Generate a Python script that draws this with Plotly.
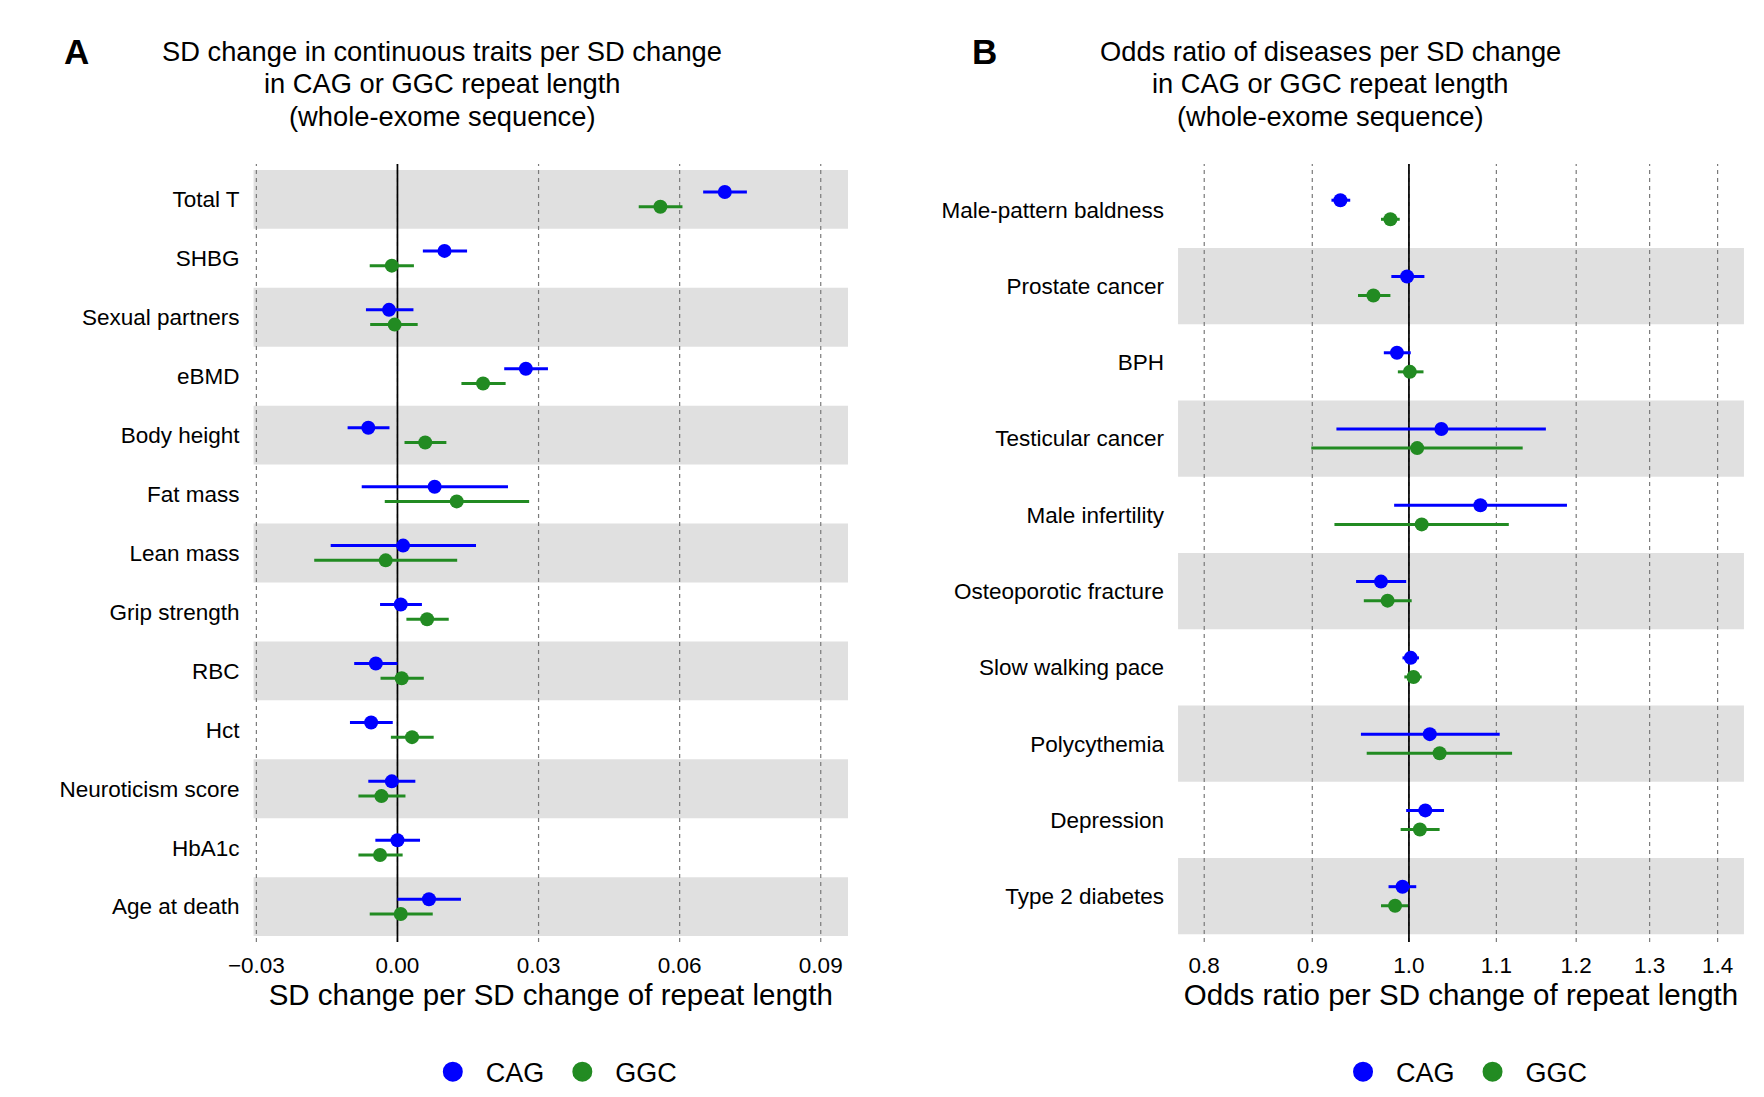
import plotly.graph_objects as go

# ---------------- Panel A data (top to bottom) ----------------
traits = ["Total T", "SHBG", "Sexual partners", "eBMD", "Body height", "Fat mass",
          "Lean mass", "Grip strength", "RBC", "Hct", "Neuroticism score", "HbA1c",
          "Age at death"]
a_cag_est = [0.0696, 0.0100, -0.0018, 0.0273, -0.0062, 0.0079, 0.0012, 0.0007, -0.0046, -0.0056, -0.0012, 0.0000, 0.0067]
a_cag_lo = [0.0650, 0.0054, -0.0067, 0.0227, -0.0106, -0.0076, -0.0142, -0.0037, -0.0092, -0.0101, -0.0062, -0.0047, 0.0000]
a_cag_hi = [0.0743, 0.0148, 0.0034, 0.0320, -0.0017, 0.0235, 0.0167, 0.0052, 0.0000, -0.0010, 0.0038, 0.0048, 0.0135]
a_ggc_est = [0.0559, -0.0012, -0.0006, 0.0182, 0.0059, 0.0126, -0.0025, 0.0063, 0.0009, 0.0031, -0.0034, -0.0037, 0.0007]
a_ggc_lo = [0.0513, -0.0059, -0.0058, 0.0136, 0.0015, -0.0027, -0.0177, 0.0019, -0.0036, -0.0014, -0.0083, -0.0083, -0.0059]
a_ggc_hi = [0.0606, 0.0035, 0.0043, 0.0230, 0.0104, 0.0280, 0.0127, 0.0109, 0.0056, 0.0077, 0.0017, 0.0011, 0.0075]
a_ticks = [-0.03, 0.0, 0.03, 0.06, 0.09]
a_ticklabels = ["\u22120.03", "0.00", "0.03", "0.06", "0.09"]

# ---------------- Panel B data (top to bottom) ----------------
diseases = ["Male-pattern baldness", "Prostate cancer", "BPH", "Testicular cancer",
            "Male infertility", "Osteoporotic fracture", "Slow walking pace",
            "Polycythemia", "Depression", "Type 2 diabetes"]
b_cag_or = [0.928, 0.998, 0.987, 1.036, 1.081, 0.970, 1.002, 1.023, 1.018, 0.993]
b_cag_lo = [0.919, 0.981, 0.973, 0.924, 0.984, 0.944, 0.993, 0.949, 0.997, 0.978]
b_cag_hi = [0.938, 1.017, 1.002, 1.161, 1.188, 0.997, 1.011, 1.104, 1.039, 1.008]
b_ggc_or = [0.980, 0.962, 1.001, 1.009, 1.014, 0.977, 1.005, 1.034, 1.012, 0.985]
b_ggc_lo = [0.970, 0.946, 0.988, 0.899, 0.922, 0.952, 0.995, 0.955, 0.991, 0.970]
b_ggc_hi = [0.990, 0.980, 1.016, 1.132, 1.115, 1.003, 1.014, 1.119, 1.034, 0.999]
b_ticks = [0.8, 0.9, 1.0, 1.1, 1.2, 1.3, 1.4]
b_ticklabels = ["0.8", "0.9", "1.0", "1.1", "1.2", "1.3", "1.4"]

series_names = ["CAG", "GGC"]
series_colors = ["#0000FF", "#228B22"]

FONT = "Liberation Sans, Arial, Helvetica, sans-serif"
DODGE = 0.125

fig = go.Figure()


def add_panel(cats, ests, los, his, xa, ya, legend, ticks, ref_x):
    n = len(cats)
    pos = [n - i for i in range(n)]
    xdom = xa + " domain"
    ydom = ya + " domain"
    # alternating gray bands (odd rows counted from the bottom)
    for p in pos:
        if p % 2 == 1:
            fig.add_shape(type="rect", xref=xdom, x0=0, x1=1, yref=ya,
                          y0=p - 0.5, y1=p + 0.5, fillcolor="#E0E0E0",
                          line=dict(width=0), layer="below")
    # dashed vertical grid lines at the ticks
    for t in ticks:
        fig.add_shape(type="line", xref=xa, x0=t, x1=t, yref=ydom, y0=0, y1=1,
                      line=dict(color="#7A7A7A", width=1.2, dash="4px,4px"), layer="below")
    # solid reference line
    fig.add_shape(type="line", xref=xa, x0=ref_x, x1=ref_x, yref=ydom, y0=0, y1=1,
                  line=dict(color="black", width=1.7), layer="below")
    for k, (name, col) in enumerate(zip(series_names, series_colors)):
        off = DODGE if k == 0 else -DODGE
        est, lo, hi = ests[k], los[k], his[k]
        fig.add_trace(go.Scatter(
            x=est, y=[p + off for p in pos], mode="markers", name=name,
            xaxis=xa, yaxis=ya, showlegend=False,
            marker=dict(color=col, size=14),
            error_x=dict(type="data", symmetric=False,
                         array=[h - e for h, e in zip(hi, est)],
                         arrayminus=[e - l for e, l in zip(est, lo)],
                         color=col, thickness=3.0, width=0),
            hoverinfo="x+y"))
        # legend key
        fig.add_trace(go.Scatter(
            x=[None], y=[None], mode="markers", name=name, xaxis=xa, yaxis=ya,
            legend=legend, showlegend=True,
            marker=dict(color=col, size=16, line=dict(color=col, width=4))))
    return pos


posA = add_panel(traits, [a_cag_est, a_ggc_est], [a_cag_lo, a_ggc_lo], [a_cag_hi, a_ggc_hi],
                 "x", "y", "legend", a_ticks, 0.0)
posB = add_panel(diseases, [b_cag_or, b_ggc_or], [b_cag_lo, b_ggc_lo], [b_cag_hi, b_ggc_hi],
                 "x2", "y2", "legend2", b_ticks, 1.0)

YDOM = [0.1486, 0.8578]
xcommon = dict(showgrid=False, zeroline=False, showline=False, ticks="", automargin=False,
               tickfont=dict(size=22.5, color="black", family=FONT), ticklabelstandoff=8)
ycommon = dict(showgrid=False, zeroline=False, showline=False, ticks="", automargin=False,
               tickfont=dict(size=22.5, color="black", family=FONT), ticklabelstandoff=13)
legcommon = dict(orientation="h", yanchor="middle", y=0.030, itemwidth=56,
                 font=dict(size=27, color="black", family=FONT), bgcolor="rgba(0,0,0,0)")
fig.update_layout(
    xaxis=dict(domain=[0.1392, 0.4762], range=[-0.0306, 0.0958],
               tickvals=a_ticks, ticktext=a_ticklabels,
               title=dict(text="SD change per SD change of repeat length",
                          font=dict(size=29.5, color="black", family=FONT), standoff=6),
               anchor="y", **xcommon),
    yaxis=dict(domain=YDOM, range=[0.4, len(traits) + 0.6], tickvals=posA, ticktext=traits,
               anchor="x", **ycommon),
    xaxis2=dict(type="log", domain=[0.6633, 0.9841], range=[-0.1093, 0.1586],
                tickvals=b_ticks, ticktext=b_ticklabels,
                title=dict(text="Odds ratio per SD change of repeat length",
                           font=dict(size=29.5, color="black", family=FONT), standoff=6),
                anchor="y2", **xcommon),
    yaxis2=dict(domain=YDOM, range=[0.4, len(diseases) + 0.6], tickvals=posB, ticktext=diseases,
                anchor="x2", **ycommon),
    legend=dict(x=0.308, xanchor="center", **legcommon),
    legend2=dict(x=0.824, xanchor="center", **legcommon),
    width=1764, height=1097, margin=dict(l=0, r=0, t=0, b=0),
    paper_bgcolor="white", plot_bgcolor="white",
    font=dict(family=FONT, color="black"),
)

# titles and panel letters
titleA = ["SD change in continuous traits per SD change", "in CAG or GGC repeat length", "(whole-exome sequence)"]
titleB = ["Odds ratio of diseases per SD change", "in CAG or GGC repeat length", "(whole-exome sequence)"]
line_y = [43, 76, 108.5]
for lines, xc in [(titleA, 434), (titleB, 1322)]:
    for t, yy in zip(lines, line_y):
        fig.add_annotation(text=t, xref="paper", yref="paper", x=xc / 1764, y=1 - yy / 1097,
                           xanchor="center", yanchor="middle", showarrow=False,
                           font=dict(size=27.3, color="black", family=FONT))
for letter, xc in [("A", 68), ("B", 976)]:
    fig.add_annotation(text="<b>%s</b>" % letter, xref="paper", yref="paper", x=xc / 1764,
                       y=1 - 43 / 1097, xanchor="center", yanchor="middle", showarrow=False,
                       font=dict(size=35, color="black", family=FONT))

fig.write_html("out.html")
